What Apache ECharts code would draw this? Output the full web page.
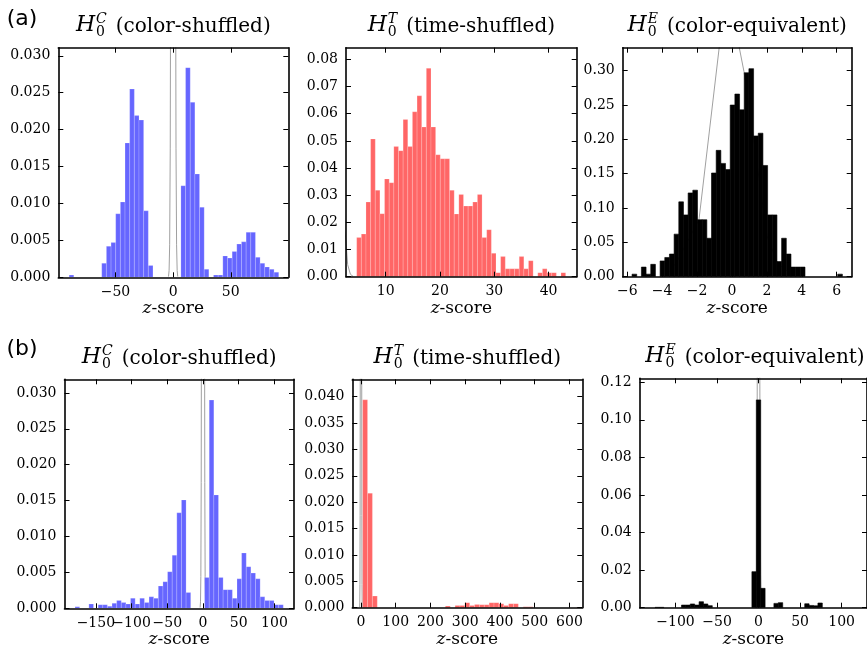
<!DOCTYPE html>
<html>
<head>
<meta charset="utf-8">
<script src="https://cdn.jsdelivr.net/npm/echarts@6/dist/echarts.min.js"></script>
<style>
  html, body { margin: 0; padding: 0; background: #fff; }
  #main { width: 867px; height: 652px; }
</style>
</head>
<body>
<div id="main"></div>
<script>
// histogram bins: first edge, bin width, heights
const a1Start = -90.2, a1Width = 4.04;
const a1Heights = [0.0003, 0, 0, 0, 0, 0, 0,
  0.0019, 0.0042, 0.0047, 0.0086, 0.0102, 0.0182, 0.0255, 0.0219, 0.0213, 0.0090, 0.0016,
  0, 0, 0, 0, 0, 0,
  0.0124, 0.0284, 0.0237, 0.0140, 0.0095, 0.0011,
  0, 0.0003, 0.0003,
  0.0029, 0.0026, 0.0035, 0.0045, 0.0048, 0.0061, 0.0061, 0.0027, 0.0019, 0.0014, 0.0011, 0.0007];

const a2Start = 4.66, a2Width = 0.855;
const a2Heights = [0.0144, 0.0157, 0.0275, 0.0507, 0.0318, 0.0232, 0.0360, 0.0346, 0.0479, 0.0464,
  0.0579, 0.0479, 0.0607, 0.0666, 0.0551, 0.0767, 0.0551, 0.0449, 0.0434, 0.0434,
  0.0318, 0.0231, 0.0303, 0.0260, 0.0260, 0.0275, 0.0303, 0.0144, 0.0173, 0.0086,
  0.0015, 0.0074, 0.0029, 0.0029, 0.0029, 0.0074, 0.0029, 0.0059, 0, 0.0015,
  0.0029, 0.0015, 0.0015, 0, 0.0015];

const a3Start = -6.26, a3Width = 0.2678;
const a3Heights = [0, 0, 0.0037, 0, 0.014, 0.0037, 0.018, 0, 0.023, 0.028,
  0.033, 0.062, 0.109, 0.090, 0.122, 0.126, 0.083, 0.083, 0.056, 0.151,
  0.184, 0.165, 0.156, 0.250, 0.266, 0.243, 0.297, 0.303, 0.205, 0.209,
  0.162, 0.090, 0.090, 0.022, 0.056, 0.033, 0.014, 0.014, 0.014, 0,
  0, 0, 0, 0, 0, 0, 0.0037, 0, 0];

const b1Start = -179.2, b1Width = 6.48;
const b1Heights = [0.0002, 0, 0, 0.0006, 0, 0.0005, 0.0005, 0.0003, 0.0007, 0.0011,
  0.0008, 0.0006, 0.0014, 0.0006, 0.0014, 0.0008, 0.0016, 0.0014, 0.0031, 0.0037,
  0.0051, 0.0074, 0.0133, 0.0151, 0.0022, 0, 0, 0, 0.0043, 0.0290,
  0.0158, 0.0043, 0.0026, 0.0026, 0.0014, 0.0041, 0.0077, 0.0058, 0.0049, 0.0041,
  0.0016, 0.0011, 0.0011, 0.0005, 0.0005];

const b2Start = 4.9, b2Width = 14.0;
const b2Heights = [0.0394, 0.0217, 0.0022, 0, 0, 0, 0, 0, 0, 0,
  0, 0, 0, 0, 0, 0, 0, 0.0003, 0, 0.00044,
  0.00044, 0.00095, 0.00044, 0.0006, 0.00057, 0.00057, 0.00095, 0.00095, 0.00076, 0.00044,
  0.00076, 0.00076, 0, 0.0002, 0.0002, 0, 0, 0, 0, 0,
  0, 0, 0, 0, 0.00015];

const b3Start = -124.6, b3Width = 5.3;
const b3Heights = [0.0002, 0.0002, 0, 0, 0, 0, 0.0014, 0.0014, 0.002, 0.0014,
  0.0032, 0.002, 0.0011, 0, 0, 0, 0, 0, 0, 0,
  0, 0, 0.0192, 0.1106, 0.0103, 0, 0, 0.0023, 0.0027, 0,
  0, 0, 0, 0, 0.0021, 0.0012, 0.001, 0.0025, 0, 0,
  0, 0, 0, 0, 0];

// null-model curve (grey line)
const nullX = [-4, -3.5, -3, -2.5, -2, -1.5, -1, -0.5, 0, 0.5, 1, 1.5, 2, 2.5, 3, 3.5, 4];
const nullY = [0.0001, 0.0009, 0.0044, 0.0175, 0.054, 0.1295, 0.242, 0.352, 0.399, 0.352,
  0.242, 0.1295, 0.054, 0.0175, 0.0044, 0.0009, 0.0001];
const a3NullX = [-3.8, -3.2, -1.89, -0.30, 0.69, 1.3, 2.0, 2.6, 3.5];
const a3NullY = [0.001, 0.02, 0.083, 0.427, 0.2985, 0.19, 0.06, 0.02, 0.001];

// tick values
const a1XTicks = [-50, 0, 50];
const a2XTicks = [10, 20, 30, 40];
const a3XTicks = [-6, -4, -2, 0, 2, 4, 6];
const b1XTicks = [-150, -100, -50, 0, 50, 100];
const b1XLabelsA = [-100, 0, 100];   // b1 labels are split over two axes so none get dropped
const b1XLabelsB = [-150, -50, 50];
const b2XTicks = [0, 100, 200, 300, 400, 500, 600];
const b3XTicks = [-100, -50, 0, 50, 100];
const yTicks030 = [0, 0.005, 0.010, 0.015, 0.020, 0.025, 0.030];
const yTicks08 = [0, 0.01, 0.02, 0.03, 0.04, 0.05, 0.06, 0.07, 0.08];
const yTicks30 = [0, 0.05, 0.10, 0.15, 0.20, 0.25, 0.30];
const yTicks040 = [0, 0.005, 0.010, 0.015, 0.020, 0.025, 0.030, 0.035, 0.040];
const yTicks12 = [0, 0.02, 0.04, 0.06, 0.08, 0.10, 0.12];

const BLUE = '#6666ff', RED = '#ff6666', BLACK = '#000000';
const SEAM = 'rgba(255,255,255,0.3)';
const serif = '"DejaVu Serif", serif';

const panels = [
  { rect: [58.3, 47.7, 230, 229.6], x: [-99.6, 99.9], yMax: 0.0311, xt: a1XTicks, yt: yTicks030, dec: 3,
    start: a1Start, w: a1Width, h: a1Heights, color: BLUE, edge: SEAM,
    nx: nullX, ny: nullY, sup: 'C', text: '(color-shuffled)' },
  { rect: [346, 47.7, 230.7, 229], x: [2.69, 45.17], yMax: 0.0843, xt: a2XTicks, yt: yTicks08, dec: 2,
    start: a2Start, w: a2Width, h: a2Heights, color: RED, edge: SEAM,
    nx: nullX, ny: nullY, sup: 'T', text: '(time-shuffled)' },
  { rect: [622.7, 47.7, 229, 229], x: [-6.26, 6.86], yMax: 0.3335, xt: a3XTicks, yt: yTicks30, dec: 2,
    start: a3Start, w: a3Width, h: a3Heights, color: BLACK, edge: BLACK,
    nx: a3NullX, ny: a3NullY, sup: 'E', text: '(color-equivalent)' },
  { rect: [64.5, 379.3, 229.5, 229], x: [-193.9, 127.4], yMax: 0.0319, xt: b1XTicks, yt: yTicks030, dec: 3,
    xl: b1XLabelsA, xl2: b1XLabelsB,
    start: b1Start, w: b1Width, h: b1Heights, color: BLUE, edge: SEAM,
    nx: nullX, ny: nullY, sup: 'C', text: '(color-shuffled)' },
  { rect: [352.3, 379.3, 230, 228.4], x: [-25, 637], yMax: 0.0433, xt: b2XTicks, yt: yTicks040, dec: 3,
    start: b2Start, w: b2Width, h: b2Heights, color: RED, edge: SEAM,
    nx: nullX, ny: nullY, sup: 'T', text: '(time-shuffled)' },
  { rect: [639.7, 378.3, 230.5, 229.4], x: [-143.1, 130.6], yMax: 0.1221, xt: b3XTicks, yt: yTicks12, dec: 2,
    start: b3Start, w: b3Width, h: b3Heights, color: BLACK, edge: BLACK,
    nx: nullX, ny: nullY, sup: 'E', text: '(color-equivalent)' }
];

const fmtX = v => (v < 0 ? '\u2212' + Math.abs(v) : String(v));
const frame = { show: true, onZero: false, lineStyle: { color: '#000', width: 1.6 } };
const tick = vals => ({ show: true, inside: true, length: 5, customValues: vals, lineStyle: { color: '#000', width: 1 } });
const xLabel = vals => ({ customValues: vals, formatter: fmtX, hideOverlap: false, interval: 0,
  fontFamily: serif, fontSize: 14, color: '#000', margin: 8 });

// text measuring for the titles
const ctx = document.createElement('canvas').getContext('2d');
function measure(str, font) { ctx.font = font; return ctx.measureText(str).width; }

const grids = [], xAxes = [], yAxes = [], series = [], graphic = [], extraX = [];

panels.forEach((p, i) => {
  grids.push({ left: p.rect[0], top: p.rect[1], width: p.rect[2], height: p.rect[3] });

  xAxes.push({
    type: 'value', gridIndex: i, min: p.x[0], max: p.x[1], position: 'bottom', z: 5,
    axisLine: frame, axisTick: tick(p.xt), splitLine: { show: false },
    axisLabel: xLabel(p.xl || p.xt),
    name: '{i|z}-score', nameLocation: 'middle', nameGap: 23,
    nameTextStyle: { fontFamily: serif, fontSize: 17, color: '#000',
      rich: { i: { fontFamily: serif, fontSize: 17, fontStyle: 'italic', color: '#000' } } }
  });
  xAxes.push({
    type: 'value', gridIndex: i, min: p.x[0], max: p.x[1], position: 'top', z: 5,
    axisLine: frame, axisTick: tick(p.xt), axisLabel: { show: false }, splitLine: { show: false }
  });
  if (p.xl2) {
    extraX.push({
      type: 'value', gridIndex: i, min: p.x[0], max: p.x[1], position: 'bottom', z: 5,
      axisLine: { show: false }, axisTick: { show: false }, splitLine: { show: false },
      axisLabel: xLabel(p.xl2)
    });
  }
  yAxes.push({
    type: 'value', gridIndex: i, min: 0, max: p.yMax, position: 'left', z: 5,
    axisLine: frame, axisTick: tick(p.yt), splitLine: { show: false },
    axisLabel: { customValues: p.yt, formatter: v => v.toFixed(p.dec), hideOverlap: false,
      fontFamily: serif, fontSize: 14, color: '#000', margin: 8 }
  });
  yAxes.push({
    type: 'value', gridIndex: i, min: 0, max: p.yMax, position: 'right', z: 5,
    axisLine: frame, axisTick: tick(p.yt), axisLabel: { show: false }, splitLine: { show: false }
  });

  // grey null-model curve, under the bars
  series.push({
    type: 'line', xAxisIndex: 2 * i, yAxisIndex: 2 * i, z: 1, silent: true,
    symbol: 'none', clip: true,
    lineStyle: { color: '#a0a0a0', width: 1 },
    data: p.nx.map((x, k) => [x, p.ny[k]])
  });

  // histogram bars
  const bars = p.h.map((v, k) => [p.start + k * p.w, p.start + (k + 1) * p.w, v]).filter(d => d[2] > 0);
  series.push({
    type: 'custom', xAxisIndex: 2 * i, yAxisIndex: 2 * i, z: 2, silent: true, clip: true,
    data: bars,
    renderItem: (params, api) => {
      const lo = api.coord([api.value(0), 0]);
      const hi = api.coord([api.value(1), api.value(2)]);
      return {
        type: 'rect',
        shape: { x: lo[0], y: hi[1], width: hi[0] - lo[0], height: lo[1] - hi[1] },
        style: { fill: p.color, stroke: p.edge, lineWidth: 0.6 }
      };
    }
  });

  // title  H_0^X (text)
  const fH = 'italic 22px ' + serif, fS = 'italic 14px ' + serif, f0 = '14px ' + serif, fT = '20px ' + serif;
  const wH = measure('H', fH), wS = Math.max(measure(p.sup, fS), measure('0', f0)), wT = measure(p.text, fT);
  const total = wH + 1 + wS + 9 + wT;
  const cx = p.rect[0] + p.rect[2] / 2;
  const x0 = cx - total / 2;
  const cy = p.rect[1] - 21;
  graphic.push(
    { type: 'text', x: x0, y: cy - 1, style: { text: 'H', font: fH, fill: '#000', verticalAlign: 'middle' } },
    { type: 'text', x: x0 + wH + 1, y: cy - 7, style: { text: p.sup, font: fS, fill: '#000', verticalAlign: 'middle' } },
    { type: 'text', x: x0 + wH + 1, y: cy + 6, style: { text: '0', font: f0, fill: '#000', verticalAlign: 'middle' } },
    { type: 'text', x: x0 + wH + 1 + wS + 9, y: cy, style: { text: p.text, font: fT, fill: '#000', verticalAlign: 'middle' } }
  );
});

graphic.push(
  { type: 'text', x: 22, y: 19, style: { text: '(a)', font: '22px "DejaVu Sans", sans-serif', fill: '#000', align: 'center', verticalAlign: 'middle' } },
  { type: 'text', x: 22, y: 349, style: { text: '(b)', font: '22px "DejaVu Sans", sans-serif', fill: '#000', align: 'center', verticalAlign: 'middle' } }
);

const myChart = echarts.init(document.getElementById('main'), null, { renderer: 'canvas' });
myChart.setOption({
  backgroundColor: '#ffffff',
  animation: false,
  grid: grids,
  xAxis: xAxes.concat(extraX),
  yAxis: yAxes,
  series: series,
  graphic: graphic
});
</script>
</body>
</html>
